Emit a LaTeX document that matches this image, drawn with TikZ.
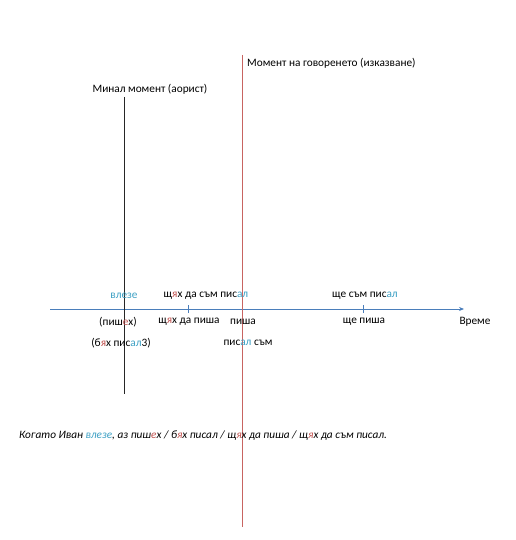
\documentclass[tikz,border=0pt]{standalone}
\usepackage{fontspec}
\setmainfont{Carlito}
\usepackage{xcolor}
\usetikzlibrary{arrows.meta,positioning}
\definecolor{axisblue}{HTML}{4A7EBB}
\definecolor{vlred}{HTML}{C86461}
\definecolor{txblue}{HTML}{3DA0C4}
\definecolor{txred}{HTML}{C0504D}
\newcommand{\bl}[1]{\textcolor{txblue}{#1}}
\newcommand{\rd}[1]{\textcolor{txred}{#1}}

\begin{document}
\begin{tikzpicture}[x=1pt,y=-1pt,
    lbl/.style={inner sep=1pt,font=\fontsize{11.3}{13}\selectfont}]
  \useasboundingbox (0,0) rectangle (515,540);
  % time axis
  \coordinate (ax0) at (50,309);
  \coordinate (ax1) at (464,309);
  \draw[color=axisblue,line width=0.8pt,-{Stealth[length=5pt,width=4pt]}] (ax0) -- (ax1);
  \coordinate (t1) at (188,309);
  \coordinate (t2) at (363,309);
  \draw[color=axisblue,line width=0.8pt] ([yshift=-4pt]t1) -- ([yshift=4pt]t1);
  \draw[color=axisblue,line width=0.8pt] ([yshift=-4pt]t2) -- ([yshift=4pt]t2);
  % moments
  \coordinate (past0) at (124,97);
  \coordinate (past1) at (124,394);
  \draw[color=black!85,line width=0.8pt] (past0) -- (past1);
  \coordinate (now0) at (242.5,55);
  \coordinate (now1) at (242.5,527);
  \draw[color=vlred,line width=1pt] (now0) -- (now1);
  \node[lbl,anchor=west] (nowlbl) at (246,63) {Момент на говоренето (изказване)};
  \node[lbl] (pastlbl) at (150,89) {Минал момент (аорист)};
  % above the axis
  \node[lbl] (vleze) at (124,296) {\bl{влезе}};
  \node[lbl] (shtqhbil) at (206,296) {щ\rd{я}х да съм пис\bl{ал}};
  \node[lbl] (shtebil) at (365,296) {ще съм пис\bl{ал}};
  % below the axis
  \node[lbl] (pisheh) at (118,322) {(пиш\rd{е}х)};
  \node[lbl] (shtqh) at (189,322) {щ\rd{я}х да пиша};
  \node[lbl] (pisha) at (243,322) {пиша};
  \node[lbl] (shte) at (364,322) {ще пиша};
  \node[lbl] (vreme) at (475,322) {Време};
  \node[lbl] (bqh) at (121,343) {(б\rd{я}х пис\bl{ал}3)};
  \node[lbl] (pisalsum) at (248,343) {пис\bl{ал} съм};
  % example sentence
  \node[lbl,anchor=west,font=\fontsize{11.3}{13}\selectfont\itshape] (sent) at (18,436)
    {Когато Иван \bl{влезе}, аз пиш\rd{е}х / б\rd{я}х писал / щ\rd{я}х да пиша / щ\rd{я}х да съм писал.};
\end{tikzpicture}
\end{document}
